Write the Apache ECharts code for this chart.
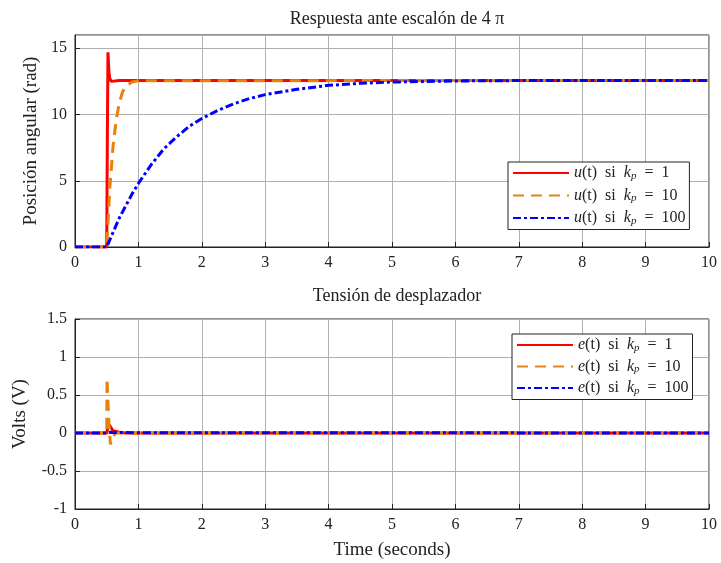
<!DOCTYPE html>
<html><head><meta charset="utf-8">
<script src="https://cdn.jsdelivr.net/npm/echarts@6/dist/echarts.min.js"></script>
<style>html,body{margin:0;padding:0;background:#fff}#c{width:721px;height:563px}</style>
</head><body><div id="c"></div>
<script>
// Top: u(t) [time, rad]
const uKp1 = [[0,0],[0.5,0],[0.51,8],[0.52,14.7],[0.535,13.2],[0.55,12.7],[0.57,12.5],[0.6,12.6],[0.7,12.57],[10,12.57]];
const uKp10 = [[0,0],[0.5,0],[0.55,4.5],[0.6,7.6],[0.65,9.6],[0.7,10.9],[0.75,11.7],[0.8,12.15],[0.9,12.45],[1.0,12.55],[10,12.57]];
const uKp100 = [[0,0],[0.5,0],[0.6,1.1],[0.7,2.2],[0.8,3.1],[0.9,4.0],[1.0,4.8],[1.2,6.2],[1.4,7.4],[1.6,8.3],[1.8,9.1],[2.0,9.7],[2.25,10.3],[2.5,10.8],[2.75,11.2],[3.0,11.5],[3.5,11.9],[4.0,12.2],[4.5,12.35],[5,12.45],[6,12.53],[7,12.56],[8,12.57],[10,12.57]];
// Bottom: e(t) [time, V]
const eKp1 = [[0,0],[0.5,0],[0.52,0.08],[0.54,0.11],[0.56,0.08],[0.6,0.03],[0.7,0.01],[0.8,0],[10,0]];
const eKp10 = [[0,0],[0.5,0],[0.505,0.72],[0.52,0.4],[0.54,0.05],[0.56,-0.15],[0.59,-0.05],[0.65,0],[10,0]];
const eKp100 = [[0,0],[0.5,0],[0.55,0.01],[0.7,0.005],[10,0]];
const xTicks = [0,1,2,3,4,5,6,7,8,9,10];
const titles = ['Respuesta ante escalón de 4 π','Tensión de desplazador'];
const yNames = ['Posición angular (rad)','Volts (V)'];
const xName = 'Time (seconds)';
const names = ['u(t) si kp = 1','u(t) si kp = 10','u(t) si kp = 100','e(t) si kp = 1','e(t) si kp = 10','e(t) si kp = 100'];

const FONT = 'Liberation Serif';
const chart = echarts.init(document.getElementById('c'));
const axisCommon = {
  axisLine:{show:true,onZero:false,lineStyle:{color:'#222',width:1}},
  axisTick:{show:true,inside:true,length:5,lineStyle:{color:'#222'}},
  splitLine:{show:true,lineStyle:{color:'#b0b0b0',width:1}},
  axisLabel:{color:'#222',fontFamily:FONT,fontSize:16}
};
function legendFmt(n){
  const m = n.match(/^(\w)\(t\) si kp = (\d+)$/);
  return '{i|'+m[1]+'}(t)  si  {i|k}{s|p}  =  '+m[2];
}
const rich = {i:{fontStyle:'italic',fontFamily:FONT,fontSize:16,color:'#222'},s:{fontStyle:'italic',fontFamily:FONT,fontSize:11,color:'#222',verticalAlign:'bottom',padding:[6,0,0,0]}};
const styles = [
  {color:'#ff0000',type:'solid'},
  {color:'#e8820e',type:[11,7]},
  {color:'#0000ff',type:[8,3,3,3]}
];
const dataSets = [uKp1,uKp10,uKp100,eKp1,eKp10,eKp100];
const series = dataSets.map((d,i)=>({
  name:names[i], type:'line', xAxisIndex:i<3?0:1, yAxisIndex:i<3?0:1,
  data:d, symbol:'none', animation:false, z:2+(i%3),
  lineStyle:{color:styles[i%3].color,type:styles[i%3].type,width:3},
  itemStyle:{color:styles[i%3].color}
}));
const legendCommon = {orient:'vertical',itemWidth:56,itemHeight:3,
  backgroundColor:'#fff',borderColor:'#222',borderWidth:1,borderRadius:0,padding:[3,4,3,4],
  itemStyle:{opacity:0},
  formatter:legendFmt,textStyle:{fontFamily:FONT,fontSize:16,color:'#222',rich:rich}};
const titleStyle = {fontFamily:FONT,fontWeight:'normal',fontSize:18,color:'#222'};
const nameStyle = {fontFamily:FONT,fontSize:19,color:'#222'};
chart.setOption({
  backgroundColor:'#fff',
  animation:false,
  title:[
    {text:titles[0],left:392,top:5,textAlign:'center',textStyle:titleStyle},
    {text:titles[1],left:392,top:282,textAlign:'center',textStyle:titleStyle}
  ],
  grid:[
    {left:75,right:12,top:35,height:212,show:true,borderColor:'#222',borderWidth:1,backgroundColor:'#fff'},
    {left:75,right:12,top:319,height:190,show:true,borderColor:'#222',borderWidth:1,backgroundColor:'#fff'}
  ],
  xAxis:[
    Object.assign({type:'value',gridIndex:0,min:0,max:10,interval:1},axisCommon),
    Object.assign({type:'value',gridIndex:1,min:0,max:10,interval:1,name:xName,nameLocation:'middle',nameGap:32,nameTextStyle:nameStyle},axisCommon)
  ],
  yAxis:[
    Object.assign({type:'value',gridIndex:0,min:0,max:16,interval:5,name:yNames[0],nameLocation:'middle',nameGap:32,nameTextStyle:nameStyle},axisCommon,{axisLabel:{color:'#222',fontFamily:FONT,fontSize:16,showMaxLabel:false,formatter:v=>v%5===0?String(v):''}}),
    Object.assign({type:'value',gridIndex:1,min:-1,max:1.5,interval:0.5,name:yNames[1],nameLocation:'middle',nameGap:45,nameTextStyle:nameStyle},axisCommon)
  ],
  legend:[
    Object.assign({data:names.slice(0,3),left:508,top:162,itemGap:6},legendCommon),
    Object.assign({data:names.slice(3),left:512,top:334,itemGap:5},legendCommon)
  ],
  series:series
});
</script></body></html>
